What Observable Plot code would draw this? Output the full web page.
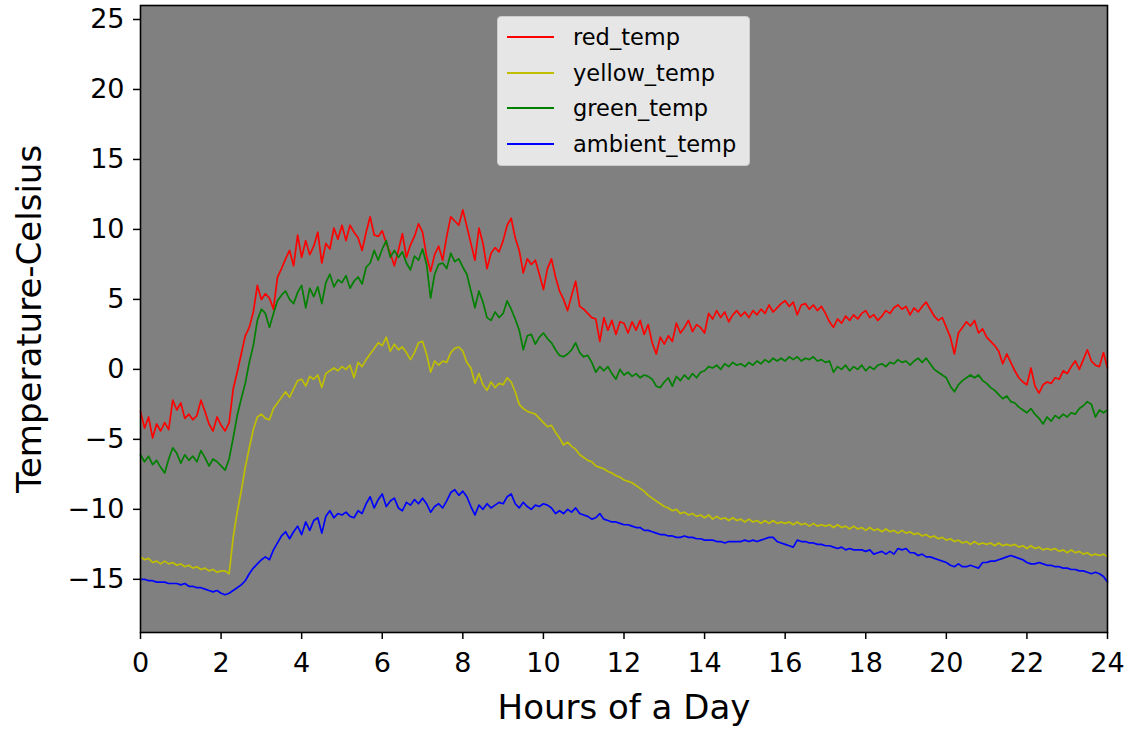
<!DOCTYPE html>
<html>
<head>
<meta charset="utf-8">
<script src="https://cdn.jsdelivr.net/npm/d3@7"></script>
<script src="https://cdn.jsdelivr.net/npm/@observablehq/plot@0.6"></script>
<style>
  html, body { margin: 0; padding: 0; background: #ffffff; }
  #wrap { position: relative; width: 1130px; height: 731px; font-family: "DejaVu Sans", sans-serif; }
  #legend { position: absolute; left: 497px; top: 16px; width: 251px; height: 148px;
    background: rgba(255,255,255,0.8); border: 1px solid #cccccc; border-radius: 4px; }
  .row { position: absolute; left: 0; height: 30px; }
  .sw { position: absolute; left: 9px; width: 47px; height: 0; border-top: 2px solid; }
  .lab { position: absolute; left: 75px; font-size: 22.5px; color: #000; white-space: nowrap; line-height: 30px; }
</style>
</head>
<body>
<div id="wrap"></div>
<script>
const seriesNames = ["red_temp", "yellow_temp", "green_temp", "ambient_temp"];
const seriesColors = ["#ff0000", "#bfbf00", "#008000", "#0000ff"];
const xTicks = [0, 2, 4, 6, 8, 10, 12, 14, 16, 18, 20, 22, 24];
const yTicks = [-15, -10, -5, 0, 5, 10, 15, 20, 25];
const sampleStep = 0.1; // hours between samples

const redTemp = [
  -3.0,-4.2,-3.4,-4.9,-3.9,-4.4,-3.8,-4.3,-2.2,-2.9,
  -2.4,-3.5,-3.2,-3.6,-3.3,-2.2,-3.0,-3.9,-4.4,-3.4,
  -4.0,-4.4,-3.8,-1.4,-0.2,1.1,2.4,3.0,4.1,6.0,
  5.0,5.4,5.1,4.3,6.6,7.2,7.9,8.5,7.4,9.6,
  8.0,9.2,8.2,8.8,9.8,7.6,9.0,8.6,10.1,9.3,
  10.3,9.2,10.3,9.8,9.4,8.5,9.8,10.9,9.6,9.5,
  9.9,9.0,8.3,7.4,8.5,9.7,8.0,8.9,9.5,10.4,
  9.8,8.1,7.0,8.2,8.8,7.8,9.5,10.9,10.6,10.3,
  11.4,10.2,9.0,7.8,10.1,9.0,7.2,8.3,8.7,8.4,
  9.2,10.3,10.8,9.4,8.5,6.9,7.9,7.5,7.8,6.8,
  5.7,7.2,7.9,6.6,5.6,5.0,4.2,5.3,6.3,4.5,
  4.3,4.0,3.7,3.6,2.0,3.7,2.8,3.5,2.5,3.4,
  3.3,2.6,3.4,2.8,3.5,2.5,3.2,1.9,1.1,2.3,
  1.8,2.4,2.0,3.3,2.6,3.0,3.5,2.7,3.2,3.0,
  2.6,4.0,3.6,4.2,3.7,4.1,3.4,3.9,4.2,3.8,
  4.1,3.7,4.2,3.9,4.3,4.0,4.6,4.1,4.4,4.7,
  4.9,4.5,4.8,3.9,4.6,4.7,4.3,4.6,4.2,4.5,
  4.0,3.4,3.0,3.6,3.3,3.8,3.5,3.9,3.6,4.0,
  4.2,3.7,3.9,3.5,3.8,4.2,4.0,4.4,4.6,4.3,
  4.5,3.9,4.4,4.1,4.5,4.8,4.3,3.8,3.5,3.7,
  3.0,2.3,1.1,2.6,3.0,3.4,3.1,3.5,2.6,2.9,
  2.3,2.0,1.7,1.3,0.4,1.1,0.5,-0.1,-0.6,-0.9,
  -1.1,0.1,-1.2,-1.7,-1.1,-0.9,-1.0,-0.6,-0.7,-0.1,
  -0.3,0.2,0.6,0.0,0.7,1.4,0.6,0.3,0.2,1.2,
  0.1
];

const yellowTemp = [
  -13.4,-13.6,-13.5,-13.8,-13.7,-13.9,-13.7,-13.9,-13.8,-14.0,
  -13.9,-14.1,-14.0,-14.2,-14.1,-14.3,-14.2,-14.4,-14.3,-14.5,
  -14.4,-14.4,-14.6,-12.0,-10.2,-8.7,-7.0,-5.6,-4.3,-3.4,
  -3.2,-3.5,-3.6,-2.8,-2.4,-2.0,-1.6,-2.0,-1.4,-0.8,
  -0.7,-1.2,-0.5,-0.7,-0.4,-1.3,-0.3,-0.1,0.1,-0.1,
  0.2,0.0,0.3,-0.6,0.5,0.2,0.7,1.1,1.5,1.9,
  1.7,2.3,1.3,1.8,1.4,1.6,1.2,0.7,1.2,1.9,
  2.0,1.1,-0.2,0.6,0.3,0.6,0.5,1.2,1.5,1.6,
  1.3,0.5,0.1,-1.0,-0.3,-1.1,-1.5,-0.9,-1.3,-1.0,
  -1.1,-0.6,-0.9,-1.6,-2.5,-2.8,-3.0,-3.1,-3.2,-3.5,
  -3.8,-4.1,-4.0,-4.5,-4.9,-5.4,-5.2,-5.5,-5.7,-6.1,
  -6.3,-6.5,-6.6,-6.9,-7.0,-7.1,-7.3,-7.4,-7.6,-7.7,
  -7.9,-8.0,-8.1,-8.3,-8.5,-8.7,-9.0,-9.2,-9.4,-9.6,
  -9.8,-9.9,-10.1,-10.0,-10.3,-10.2,-10.4,-10.3,-10.5,-10.4,
  -10.6,-10.4,-10.7,-10.5,-10.7,-10.6,-10.8,-10.6,-10.8,-10.7,
  -10.9,-10.7,-10.9,-10.8,-11.0,-10.8,-11.0,-10.8,-11.0,-10.9,
  -11.0,-10.9,-11.1,-10.9,-11.1,-11.0,-11.2,-11.0,-11.2,-11.1,
  -11.2,-11.1,-11.3,-11.1,-11.3,-11.2,-11.4,-11.2,-11.4,-11.3,
  -11.5,-11.3,-11.5,-11.4,-11.6,-11.4,-11.6,-11.5,-11.7,-11.5,
  -11.7,-11.6,-11.8,-11.7,-11.9,-11.8,-12.0,-11.9,-12.1,-12.0,
  -12.2,-12.1,-12.3,-12.2,-12.4,-12.3,-12.5,-12.3,-12.5,-12.4,
  -12.5,-12.4,-12.6,-12.4,-12.6,-12.5,-12.6,-12.5,-12.7,-12.6,
  -12.8,-12.6,-12.8,-12.7,-12.9,-12.8,-12.9,-12.8,-13.0,-12.9,
  -13.1,-12.9,-13.1,-13.0,-13.2,-13.1,-13.3,-13.2,-13.3,-13.2,
  -13.4
];

const greenTemp = [
  -6.1,-6.6,-6.2,-6.8,-6.5,-7.0,-7.4,-6.4,-5.6,-6.0,
  -6.7,-6.1,-6.5,-6.2,-6.6,-5.8,-6.3,-6.9,-6.4,-6.6,
  -6.9,-7.2,-6.4,-4.9,-3.3,-2.1,-1.0,0.5,1.7,3.5,
  4.3,4.0,3.0,4.0,4.9,5.3,5.6,5.0,4.7,5.5,
  6.0,4.4,5.8,5.2,5.9,4.7,6.2,6.8,5.9,6.4,
  6.2,6.7,5.8,6.3,6.6,6.1,7.3,7.6,8.5,7.8,
  8.6,9.2,8.0,8.5,8.0,8.4,7.6,7.1,8.1,7.8,
  8.6,7.5,5.1,6.8,7.5,7.6,7.2,8.3,7.7,7.9,
  7.3,6.8,5.6,4.4,5.6,4.8,3.7,3.5,4.1,3.7,
  4.0,4.9,4.3,3.6,2.8,1.4,2.4,2.5,1.8,2.3,
  2.6,2.2,1.9,1.4,1.0,0.9,1.1,1.4,1.9,1.2,
  0.9,1.0,0.5,-0.2,0.2,-0.1,0.2,-0.3,-0.7,0.0,
  -0.4,-0.2,-0.5,-0.3,-0.6,-0.4,-0.5,-0.7,-1.2,-1.3,
  -0.9,-0.6,-1.2,-0.5,-0.8,-0.4,-0.7,-0.3,-0.6,-0.2,
  -0.1,0.2,0.1,0.3,0.0,0.4,0.2,0.5,0.3,0.4,
  0.2,0.5,0.3,0.6,0.4,0.7,0.5,0.8,0.6,0.8,
  0.6,0.9,0.7,0.9,0.6,0.8,0.7,0.9,0.6,0.7,
  0.5,0.6,-0.2,0.2,0.0,0.3,-0.1,0.2,0.0,0.3,
  -0.1,0.2,0.0,0.3,0.4,0.2,0.5,0.4,0.7,0.5,
  0.6,0.3,0.6,0.8,0.5,0.8,0.4,0.0,-0.2,-0.4,
  -0.6,-1.2,-1.6,-1.1,-0.8,-0.6,-0.4,-0.6,-0.4,-0.8,
  -1.0,-1.3,-1.5,-1.8,-2.1,-1.9,-2.3,-2.4,-2.7,-2.9,
  -3.1,-2.8,-3.2,-3.5,-3.9,-3.4,-3.7,-3.3,-3.5,-3.2,
  -3.4,-3.1,-3.2,-2.8,-2.6,-2.3,-2.5,-3.4,-2.9,-3.1,
  -2.9
];

const ambientTemp = [
  -15.0,-15.0,-15.1,-15.1,-15.2,-15.2,-15.2,-15.3,-15.3,-15.3,
  -15.4,-15.3,-15.5,-15.5,-15.6,-15.6,-15.7,-15.8,-15.9,-15.8,
  -16.0,-16.1,-16.0,-15.8,-15.6,-15.4,-15.1,-14.6,-14.2,-13.9,
  -13.6,-13.4,-13.6,-12.9,-12.4,-11.9,-11.6,-12.1,-11.6,-11.2,
  -11.8,-10.9,-11.5,-10.8,-10.6,-11.7,-10.5,-10.1,-10.6,-10.3,
  -10.4,-10.2,-10.5,-10.6,-10.1,-10.3,-9.6,-9.1,-9.9,-9.3,
  -8.9,-9.8,-9.4,-9.2,-9.9,-10.1,-9.5,-9.7,-9.3,-9.6,
  -9.2,-9.6,-10.2,-9.8,-9.6,-9.9,-9.4,-8.8,-8.6,-9.0,
  -8.7,-9.1,-9.8,-10.4,-9.7,-10.0,-9.6,-9.9,-9.7,-9.5,
  -9.6,-9.1,-8.9,-9.6,-9.9,-9.5,-9.8,-10.0,-9.7,-9.8,
  -9.6,-9.7,-9.9,-10.3,-10.1,-10.3,-10.0,-10.2,-9.9,-10.3,
  -10.4,-10.5,-10.7,-10.6,-10.3,-10.7,-10.8,-10.9,-10.9,-11.0,
  -11.1,-11.1,-11.2,-11.3,-11.3,-11.5,-11.5,-11.6,-11.7,-11.8,
  -11.8,-11.9,-11.9,-12.0,-12.0,-11.9,-12.0,-12.0,-12.1,-12.1,
  -12.2,-12.2,-12.2,-12.3,-12.3,-12.4,-12.3,-12.3,-12.3,-12.3,
  -12.2,-12.3,-12.2,-12.3,-12.2,-12.1,-12.0,-12.0,-12.3,-12.4,
  -12.5,-12.6,-12.7,-12.2,-12.3,-12.3,-12.4,-12.4,-12.5,-12.5,
  -12.6,-12.6,-12.7,-12.8,-12.7,-12.9,-12.8,-12.9,-12.9,-12.9,
  -13.0,-12.9,-13.2,-13.1,-13.0,-13.2,-13.0,-13.2,-12.8,-12.9,
  -12.8,-13.1,-13.1,-13.3,-13.2,-13.4,-13.4,-13.5,-13.6,-13.7,
  -13.8,-14.0,-14.1,-13.9,-14.1,-14.1,-14.0,-14.1,-14.2,-13.8,
  -13.8,-13.7,-13.7,-13.6,-13.5,-13.4,-13.3,-13.4,-13.5,-13.6,
  -13.8,-13.9,-13.9,-13.8,-13.9,-14.0,-14.0,-14.1,-14.1,-14.2,
  -14.2,-14.3,-14.3,-14.4,-14.4,-14.5,-14.6,-14.5,-14.6,-14.8,
  -15.2
];

const allSeries = [redTemp, yellowTemp, greenTemp, ambientTemp];

const rows = [];
allSeries.forEach((vals, s) => {
  vals.forEach((v, i) => rows.push({hour: i * sampleStep, temp: v, series: seriesNames[s]}));
});

const chart = Plot.plot({
  width: 1130,
  height: 731,
  marginLeft: 140,
  marginRight: 23,
  marginTop: 5,
  marginBottom: 99,
  style: {fontFamily: "DejaVu Sans, sans-serif", background: "#ffffff", color: "#000"},
  x: {domain: [0, 24]},
  y: {domain: [-18.8, 26]},
  marks: [
    Plot.frame({fill: "#808080", stroke: null}),
    ...seriesNames.map((name, s) =>
      Plot.line(rows.filter(d => d.series === name), {x: "hour", y: "temp", stroke: seriesColors[s], strokeWidth: 1.7})
    ),
    Plot.frame({stroke: "#000", strokeWidth: 1.6}),
    Plot.axisX({ticks: xTicks, tickSize: 7, tickPadding: 13, fontSize: 27, label: null, strokeWidth: 1.5}),
    Plot.axisY({ticks: yTicks, tickSize: 7, tickPadding: 9, fontSize: 27, label: null, strokeWidth: 1.5}),
    Plot.text(["Hours of a Day"], {frameAnchor: "bottom", dy: 76, fontSize: 34, textAnchor: "middle", lineAnchor: "middle", fill: "#000"}),
    Plot.text(["Temperature-Celsius"], {frameAnchor: "left", dx: -110, rotate: -90, fontSize: 34, textAnchor: "middle", lineAnchor: "middle", fill: "#000"})
  ]
});

const wrap = document.getElementById("wrap");
wrap.appendChild(chart);

const legend = document.createElement("div");
legend.id = "legend";
seriesNames.forEach((name, s) => {
  const row = document.createElement("div");
  row.className = "row";
  row.style.top = (5 + s * 35.5) + "px";
  row.style.width = "100%";
  const sw = document.createElement("div");
  sw.className = "sw";
  sw.style.borderTopColor = seriesColors[s];
  sw.style.top = "14px";
  const lab = document.createElement("div");
  lab.className = "lab";
  lab.textContent = name;
  lab.style.top = "0px";
  row.appendChild(sw);
  row.appendChild(lab);
  legend.appendChild(row);
});
wrap.appendChild(legend);
</script>
</body>
</html>
